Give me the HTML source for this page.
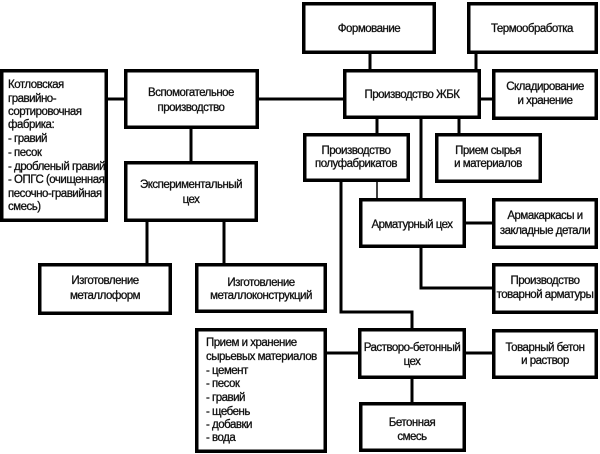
<!DOCTYPE html>
<html>
<head>
<meta charset="utf-8">
<style>
  html, body { margin: 0; padding: 0; background: #fff; }
  svg { display: block; }
  text { font-family: "Liberation Sans", "Noto Sans CJK SC", sans-serif; font-size: 11.5px; letter-spacing: -0.5px; fill: #111; stroke: #111; stroke-width: 0.3; }
  .c { text-anchor: middle; }
  rect { fill: #fff; stroke: #000; stroke-width: 3.5; }
  .ln { stroke: #000; stroke-width: 3; fill: none; }
</style>
</head>
<body>
<svg width="600" height="454" viewBox="0 0 600 454" xmlns="http://www.w3.org/2000/svg">
  <!-- connectors -->
  <line class="ln" x1="108" y1="99" x2="124" y2="99"/>
  <line class="ln" x1="259" y1="99" x2="343" y2="99"/>
  <line class="ln" x1="191" y1="129" x2="191" y2="161"/>
  <line class="ln" x1="147" y1="222" x2="147" y2="263"/>
  <line class="ln" x1="224" y1="222" x2="224" y2="263"/>
  <line class="ln" x1="370" y1="53" x2="370" y2="70"/>
  <line class="ln" x1="476" y1="53" x2="476" y2="70"/>
  <line class="ln" x1="480" y1="99" x2="492" y2="99"/>
  <line class="ln" x1="377" y1="118" x2="377" y2="133"/>
  <line class="ln" x1="421" y1="118" x2="421" y2="199"/>
  <line class="ln" x1="459" y1="118" x2="459" y2="133"/>
  <line x1="377" y1="182" x2="377" y2="199" stroke="#000" stroke-width="1.5"/>
  <polyline class="ln" points="341,182 341,312 412,312 412,329"/>
  <line class="ln" x1="466" y1="223" x2="492" y2="223"/>
  <polyline class="ln" points="421,248 421,288 492,288"/>
  <line class="ln" x1="327" y1="353" x2="359" y2="353"/>
  <line class="ln" x1="466" y1="353" x2="492" y2="353"/>
  <line class="ln" x1="412" y1="379" x2="412" y2="402"/>

  <!-- boxes -->
  <rect x="1.75" y="70.75" width="104.5" height="149.5"/>
  <rect x="125.75" y="70.75" width="131.5" height="56.5"/>
  <rect x="125.75" y="162.75" width="130.5" height="57.5"/>
  <rect x="303.75" y="3.75" width="130.5" height="48.5"/>
  <rect x="468.75" y="3.75" width="127.5" height="48.5"/>
  <rect x="344.75" y="70.75" width="134.5" height="46.5"/>
  <rect x="493.75" y="70.75" width="102.5" height="47.5"/>
  <rect x="304.75" y="134.75" width="103.5" height="45.5"/>
  <rect x="436.75" y="134.75" width="103.5" height="46.5"/>
  <rect x="360.75" y="199.75" width="103.5" height="46.5"/>
  <rect x="493.75" y="199.75" width="102.5" height="47.5"/>
  <rect x="493.75" y="264.75" width="102.5" height="47.5"/>
  <rect x="39.75" y="264.75" width="130.5" height="48.5"/>
  <rect x="196.75" y="264.75" width="128.5" height="46.5"/>
  <rect x="196.75" y="329.75" width="128.5" height="121.5"/>
  <rect x="359.75" y="329.75" width="104.5" height="47.5"/>
  <rect x="493.75" y="330.75" width="102.5" height="46.5"/>
  <rect x="360.75" y="403.75" width="103.5" height="46.5"/>

  <!-- text -->
  <text x="8" y="88">Котловская</text>
  <text x="8" y="102">гравийно-</text>
  <text x="8" y="115">сортировочная</text>
  <text x="8" y="128">фабрика:</text>
  <text x="8" y="142">- гравий</text>
  <text x="8" y="156">- песок</text>
  <text x="8" y="170">- дробленый гравий</text>
  <text x="8" y="183">- ОПГС (очищенная</text>
  <text x="8" y="197">песочно-гравийная</text>
  <text x="8" y="210">смесь)</text>

  <text class="c" x="191" y="96">Вспомогательное</text>
  <text class="c" x="191" y="111">производство</text>

  <text class="c" x="191" y="188">Экспериментальный</text>
  <text class="c" x="191" y="203">цех</text>

  <text class="c" x="369" y="32">Формование</text>
  <text class="c" x="532" y="32">Термообработка</text>

  <text class="c" x="412" y="98">Производство ЖБК</text>

  <text class="c" x="545" y="90">Складирование</text>
  <text class="c" x="545" y="104">и хранение</text>

  <text class="c" x="356" y="154">Производство</text>
  <text class="c" x="356" y="167">полуфабрикатов</text>

  <text class="c" x="488" y="154">Прием сырья</text>
  <text class="c" x="488" y="167">и материалов</text>

  <text class="c" x="412" y="228">Арматурный цех</text>

  <text class="c" x="545" y="219">Армакаркасы и</text>
  <text class="c" x="545" y="234">закладные детали</text>

  <text class="c" x="545" y="284">Производство</text>
  <text class="c" x="545" y="298">товарной арматуры</text>

  <text class="c" x="105" y="284">Изготовление</text>
  <text class="c" x="105" y="299">металлоформ</text>

  <text class="c" x="261" y="286">Изготовление</text>
  <text class="c" x="261" y="299">металлоконструкций</text>

  <text x="206" y="346">Прием и хранение</text>
  <text x="206" y="360">сырьевых материалов</text>
  <text x="206" y="374">- цемент</text>
  <text x="206" y="387">- песок</text>
  <text x="206" y="401">- гравий</text>
  <text x="206" y="415">- щебень</text>
  <text x="206" y="428">- добавки</text>
  <text x="206" y="441">- вода</text>

  <text class="c" x="412" y="351">Растворо-бетонный</text>
  <text class="c" x="412" y="365">цех</text>

  <text class="c" x="545" y="351">Товарный бетон</text>
  <text class="c" x="545" y="364">и раствор</text>

  <text class="c" x="412" y="426">Бетонная</text>
  <text class="c" x="412" y="440">смесь</text>
</svg>
</body>
</html>
